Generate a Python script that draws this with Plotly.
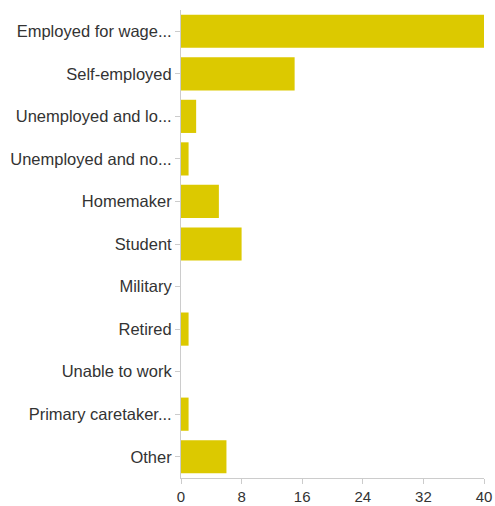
import plotly.graph_objects as go

categories = ["Employed for wage...", "Self-employed", "Unemployed and lo...",
              "Unemployed and no...", "Homemaker", "Student", "Military",
              "Retired", "Unable to work", "Primary caretaker...", "Other"]
counts = [40, 15, 2, 1, 5, 8, 0, 1, 0, 1, 6]
x_ticks = [0, 8, 16, 24, 32, 40]

fig = go.Figure(go.Bar(
    x=counts, y=categories, orientation="h",
    marker=dict(color="#dcc900", line=dict(width=0)),
))
fig.update_layout(
    width=495, height=506,
    margin=dict(l=181, r=11, t=10, b=28),
    paper_bgcolor="white", plot_bgcolor="white",
    bargap=0.22,
    font=dict(family="Liberation Sans, Arial, sans-serif", size=15, color="#333333"),
    showlegend=False,
)
fig.update_xaxes(range=[0, 40], tickvals=x_ticks, showgrid=False, zeroline=False,
                 showline=True, linecolor="#cccccc", linewidth=1,
                 ticks="outside", ticklen=5, tickcolor="#cccccc",
                 tickfont=dict(size=15), automargin=False)
fig.update_yaxes(autorange="reversed", showgrid=False, zeroline=False,
                 showline=True, linecolor="#cccccc", linewidth=1,
                 ticks="outside", ticklen=5, tickcolor="#cccccc",
                 tickfont=dict(size=16.5), ticklabelstandoff=0, automargin=False)
fig.write_html("out.html")
